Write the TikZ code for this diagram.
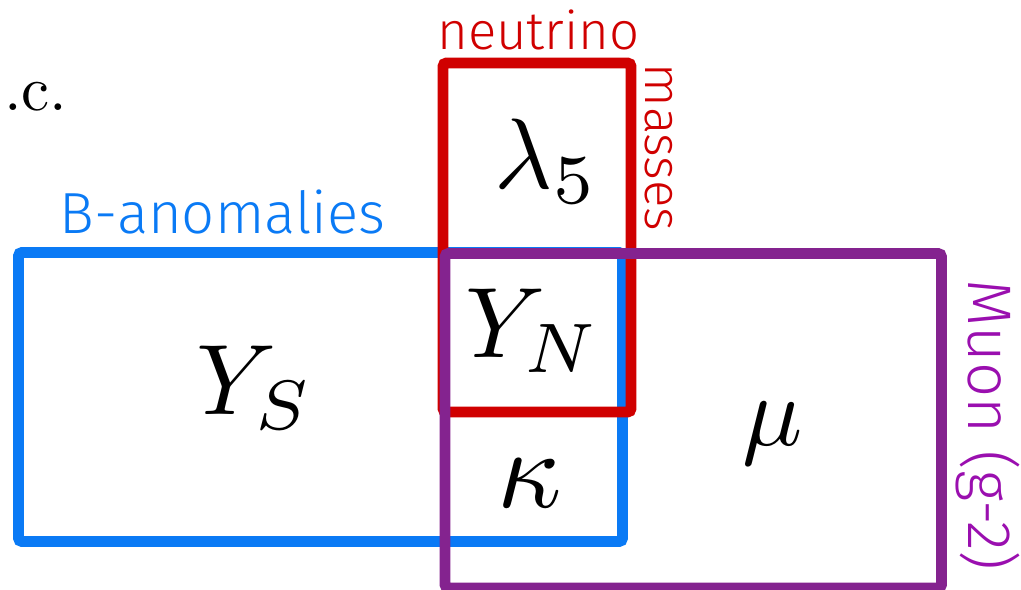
\RequirePackage{fix-cm}
\documentclass[tikz,border=0pt]{standalone}
\usepackage{amsmath}
\usepackage{fontspec}
\setsansfont{Fira Sans}[UprightFont={* Light}]
\usepackage{tikz}
\usetikzlibrary{positioning}

\definecolor{anomblue}{HTML}{0A7AF5}
\definecolor{nured}{HTML}{D00000}
\definecolor{muonpurple}{HTML}{84238F}
\definecolor{muontext}{HTML}{9A0FAF}

\tikzset{
    box/.style={line width=6.2pt, rounded corners=2pt},
    coupling/.style={inner sep=0pt, anchor=base, scale=5.7},
    tag/.style={inner sep=0pt, anchor=base, font=\sffamily\fontsize{#1}{#1}\selectfont},
}

\begin{document}
\begin{tikzpicture}[x=0.02cm, y=-0.02cm]
    \useasboundingbox (0,0) rectangle (1021,589);
    % cut-off label on the left
    \node[inner sep=0pt, anchor=base west, scale=3.6] (cc) at (3,110) {.c.};
    % B-anomalies
    \draw[box, anomblue] (18.5,252.5) rectangle (622.5,541.5);
    \node[tag=33, anomblue] (banom) at (222.5,233) {B-anomalies};
    % neutrino masses
    \draw[box, nured] (443,63) rectangle (631,412);
    \node[tag=30, nured] (nu) at (538.5,49) {neutrino};
    \node[tag=29, nured, rotate=-90] (mass) at (645,147.5) {masses};
    % Muon (g-2)
    \draw[box, muonpurple] (445,253.5) rectangle (941.5,588);
    \node[tag=35, muontext, rotate=-90] (gm2) at (968,425) {Muon (g-2)};
    % couplings
    \node[coupling] (lam) at (546.5,188) {$\lambda_5$};
    \node[coupling] (yn) at (533,357) {$Y_N$};
    \node[coupling] (ys) at (255,414) {$Y_S$};
    \node[coupling, scale=1.12] (kap) at (530,507) {$\kappa$};
    \node[coupling] (mu) at (773,445) {$\mu$};
\end{tikzpicture}
\end{document}
